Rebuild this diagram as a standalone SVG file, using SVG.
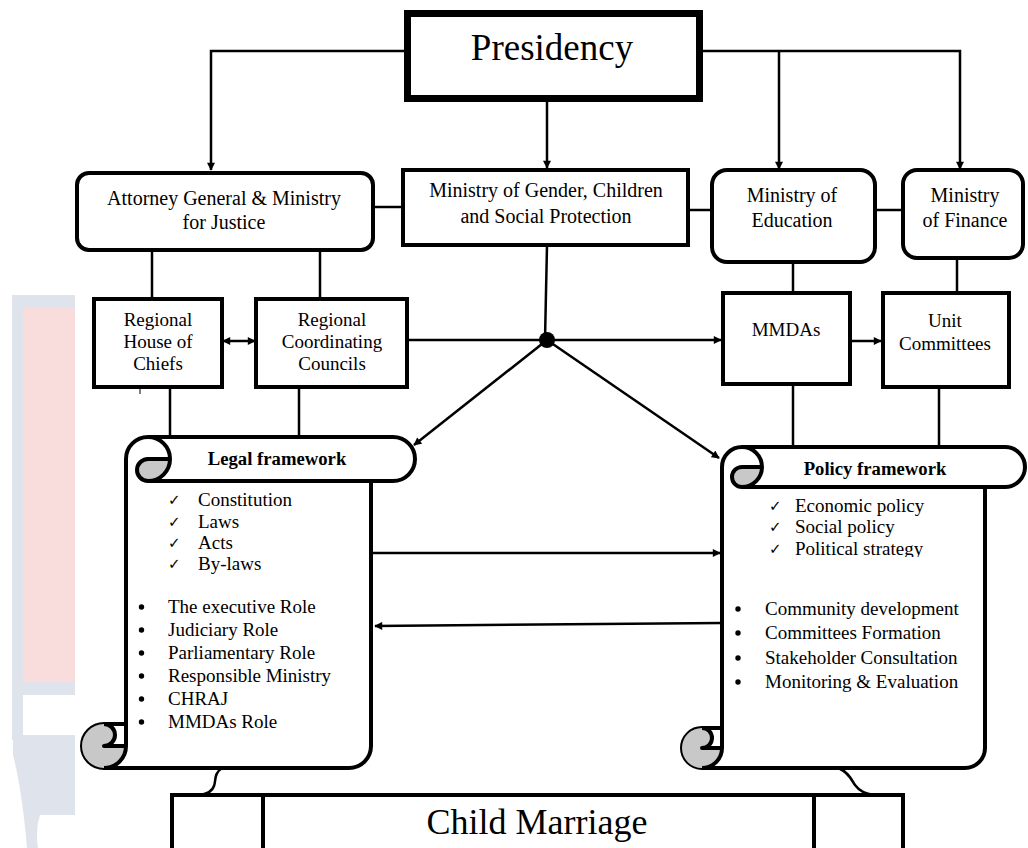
<svg xmlns="http://www.w3.org/2000/svg" width="1028" height="848" viewBox="0 0 1028 848">
<style>
.box{fill:#fff;stroke:#000;stroke-width:4}
.scroll{fill:#fff;stroke:#000;stroke-width:4;stroke-linejoin:round}
.sl{fill:none;stroke:#000;stroke-width:4;stroke-linejoin:round}
.gray{fill:#c8c8c8;stroke:none}
.conn{fill:none;stroke:#000;stroke-width:2.5}
.t{font-family:"Liberation Serif","Times New Roman",serif;font-size:19px;fill:#000}
.c{text-anchor:middle}
.b{font-weight:bold;font-size:18.7px}
.dot{fill:#000}
.ck{font-family:"DejaVu Sans",sans-serif;font-size:15px;fill:#000}
.wm1{fill:#dfe3ec}
.wm2{fill:#f9dddd}
</style>
<defs>
<marker id="ah" viewBox="0 0 10 10" refX="9" refY="5" markerWidth="9" markerHeight="8" markerUnits="userSpaceOnUse" orient="auto-start-reverse">
<path d="M0,0 L10,5 L0,10 z" fill="#000"/>
</marker>
<clipPath id="clipPol"><rect x="700" y="440" width="320" height="117"/></clipPath>
</defs>
<rect x="0" y="0" width="1028" height="848" fill="#fff"/>
<g id="watermark">
<rect class="wm1" x="12" y="295" width="63" height="13"/>
<rect class="wm1" x="12" y="295" width="11" height="445"/>
<rect class="wm2" x="23" y="308" width="52" height="374"/>
<rect class="wm1" x="23" y="682" width="52" height="13"/>
<path class="wm1" d="M13,735 L75,735 L75,815 L40,815 Q35,830 38,848 L27,848 Q22,790 13,755 Z"/>
</g>

<g id="connectors">
<polyline class="conn" points="404,51 211,51 211,170" marker-end="url(#ah)"/>
<line class="conn" x1="547" y1="102" x2="547" y2="168" marker-end="url(#ah)"/>
<polyline class="conn" points="703,51 960,51 960,169" marker-end="url(#ah)"/>
<line class="conn" x1="779" y1="51" x2="779" y2="169" marker-end="url(#ah)"/>
<line class="conn" x1="373" y1="207" x2="403" y2="207"/>
<line class="conn" x1="688" y1="210" x2="712" y2="210"/>
<line class="conn" x1="875" y1="210" x2="903" y2="210"/>
<line class="conn" x1="152" y1="250" x2="152" y2="299"/>
<line class="conn" x1="320" y1="250" x2="320" y2="299"/>
<line class="conn" x1="793" y1="262" x2="793" y2="293"/>
<line class="conn" x1="957" y1="258" x2="957" y2="293"/>
<line class="conn" x1="223" y1="341" x2="255" y2="341" marker-start="url(#ah)" marker-end="url(#ah)"/>
<line class="conn" x1="407" y1="340" x2="547" y2="340"/>
<line class="conn" x1="547" y1="245" x2="545" y2="340"/>
<line class="conn" x1="547" y1="340" x2="721" y2="340" marker-end="url(#ah)"/>
<line class="conn" x1="850" y1="341" x2="881" y2="341" marker-end="url(#ah)"/>
<line class="conn" x1="547" y1="340" x2="414" y2="445" marker-end="url(#ah)"/>
<line class="conn" x1="547" y1="340" x2="719" y2="458" marker-end="url(#ah)"/>
<line class="conn" x1="170" y1="387" x2="170" y2="437"/>
<line class="conn" x1="299" y1="387" x2="299" y2="437"/>
<line class="conn" x1="793" y1="384" x2="793" y2="447"/>
<line class="conn" x1="939" y1="387" x2="939" y2="447"/>
<line class="conn" x1="373" y1="553" x2="720" y2="553" marker-end="url(#ah)"/>
<line class="conn" x1="722" y1="623" x2="375" y2="626" marker-end="url(#ah)"/>
<line x1="140" y1="368" x2="140" y2="394" stroke="#000" stroke-width="1"/>
<circle cx="547" cy="340" r="8" fill="#000"/>
<path class="conn" d="M221,769 C214,773 216,781 214,786 C212,792 207,794 200,795"/>
<path class="conn" d="M840,769 C848,772 851,779 855,785 C860,792 866,794 874,795"/>
</g>

<g id="presidency">
<rect x="407.5" y="13.5" width="292" height="85" fill="#fff" stroke="#000" stroke-width="7"/>
<text class="t c" x="552" y="60" style="font-size:37px">Presidency</text>
</g>

<g id="attorney-general">
<rect class="box" x="77" y="173" width="296" height="77" rx="12"/>
<text class="t c" x="224" y="205" style="font-size:20px">Attorney General &amp; Ministry</text>
<text class="t c" x="224" y="229" style="font-size:20px">for Justice</text>
</g>

<g id="ministry-gender">
<rect class="box" x="403" y="170" width="285" height="75"/>
<text class="t c" x="546" y="197" style="font-size:20px">Ministry of Gender, Children</text>
<text class="t c" x="546" y="223" style="font-size:20px">and Social Protection</text>
</g>

<g id="ministry-education">
<rect class="box" x="712" y="170" width="163" height="92" rx="15"/>
<text class="t c" x="792" y="202" style="font-size:20px">Ministry of</text>
<text class="t c" x="792" y="227" style="font-size:20px">Education</text>
</g>

<g id="ministry-finance">
<rect class="box" x="903" y="170" width="120" height="88" rx="14"/>
<text class="t c" x="965" y="202" style="font-size:20px">Ministry</text>
<text class="t c" x="965" y="227" style="font-size:20px">of Finance</text>
</g>

<g id="regional-house">
<rect class="box" x="94" y="299" width="128" height="88"/>
<text class="t c" x="158" y="326">Regional</text>
<text class="t c" x="158" y="348">House of</text>
<text class="t c" x="158" y="370">Chiefs</text>
</g>

<g id="regional-councils">
<rect class="box" x="256" y="299" width="151" height="88"/>
<text class="t c" x="332" y="326">Regional</text>
<text class="t c" x="332" y="348">Coordinating</text>
<text class="t c" x="332" y="370">Councils</text>
</g>

<g id="mmdas">
<rect class="box" x="723" y="293" width="127" height="91"/>
<text class="t c" x="786" y="336">MMDAs</text>
</g>

<g id="unit-committees">
<rect class="box" x="883" y="293" width="126" height="94"/>
<text class="t c" x="945" y="327">Unit</text>
<text class="t c" x="945" y="350">Committees</text>
</g>

<g id="legal-framework">
<path class="scroll" d="M126,724 L126,459 A22,22 0 0 1 148,437 L393,437 A22,22 0 0 1 393,481 L371,481 L371,746 A22,22 0 0 1 349,768 L104,768 A22,22 0 0 1 104,724 Z"/>
<path class="gray" d="M170,459 A22,22 0 0 1 148,481 A11,11 0 0 1 148,459 Z"/>
<path class="gray" d="M126,746 A22,22 0 1 1 104,724 A11,11 0 0 1 104,746 Z"/>
<path class="sl" d="M148,437 A22,22 0 0 1 148,481 A11,11 0 0 1 148,459 L170,459 M371,481 L148,481 M104,724 A11,11 0 0 1 104,746 L126,746 M104,768 A22,22 0 0 0 126,746 L126,724"/>
<text class="t c b" x="277" y="465">Legal framework</text>
<text class="ck" x="168" y="505">✓</text>
<text class="ck" x="168" y="527">✓</text>
<text class="ck" x="168" y="548">✓</text>
<text class="ck" x="168" y="569">✓</text>
<text class="t" x="198" y="506">Constitution</text>
<text class="t" x="198" y="528">Laws</text>
<text class="t" x="198" y="549">Acts</text>
<text class="t" x="198" y="570">By-laws</text>
<circle class="dot" cx="141.5" cy="607" r="2.7"/>
<circle class="dot" cx="141.5" cy="630" r="2.7"/>
<circle class="dot" cx="141.5" cy="653" r="2.7"/>
<circle class="dot" cx="141.5" cy="676" r="2.7"/>
<circle class="dot" cx="141.5" cy="699" r="2.7"/>
<circle class="dot" cx="141.5" cy="722" r="2.7"/>
<text class="t" x="168" y="613">The executive Role</text>
<text class="t" x="168" y="636">Judiciary Role</text>
<text class="t" x="168" y="659">Parliamentary Role</text>
<text class="t" x="168" y="682">Responsible Ministry</text>
<text class="t" x="168" y="705">CHRAJ</text>
<text class="t" x="168" y="728">MMDAs Role</text>
</g>

<g id="policy-framework">
<path class="scroll" d="M722,728 L722,467 A20,20 0 0 1 742,447 L1005,447 A20,20 0 0 1 1005,487 L985,487 L985,748 A20,20 0 0 1 965,768 L702,768 A20,20 0 0 1 702,728 Z"/>
<path class="gray" d="M762,467 A20,20 0 0 1 742,487 A10,10 0 0 1 742,467 Z"/>
<path class="gray" d="M722,748 A20,20 0 1 1 702,728 A10,10 0 0 1 702,748 Z"/>
<path class="sl" d="M742,447 A20,20 0 0 1 742,487 A10,10 0 0 1 742,467 L762,467 M985,487 L742,487 M702,728 A10,10 0 0 1 702,748 L722,748 M702,768 A20,20 0 0 0 722,748 L722,728"/>
<text class="t c b" x="875" y="475">Policy framework</text>
<text class="ck" x="769" y="511">✓</text>
<text class="ck" x="769" y="532">✓</text>
<text class="ck" x="769" y="554">✓</text>
<text class="t" x="795" y="512">Economic policy</text>
<text class="t" x="795" y="533">Social policy</text>
<text class="t" x="795" y="555" clip-path="url(#clipPol)">Political strategy</text>
<circle class="dot" cx="738" cy="609" r="2.7"/>
<circle class="dot" cx="738" cy="633" r="2.7"/>
<circle class="dot" cx="738" cy="658" r="2.7"/>
<circle class="dot" cx="738" cy="682" r="2.7"/>
<text class="t" x="765" y="615">Community development</text>
<text class="t" x="765" y="639">Committees Formation</text>
<text class="t" x="765" y="664">Stakeholder Consultation</text>
<text class="t" x="765" y="688">Monitoring &amp; Evaluation</text>
</g>

<g id="child-marriage">
<rect class="box" x="172" y="795" width="731" height="80"/>
<line x1="263" y1="795" x2="263" y2="848" stroke="#000" stroke-width="4"/>
<line x1="814" y1="795" x2="814" y2="848" stroke="#000" stroke-width="4"/>
<text class="t c" x="537" y="834" style="font-size:36px">Child Marriage</text>
</g>
</svg>
